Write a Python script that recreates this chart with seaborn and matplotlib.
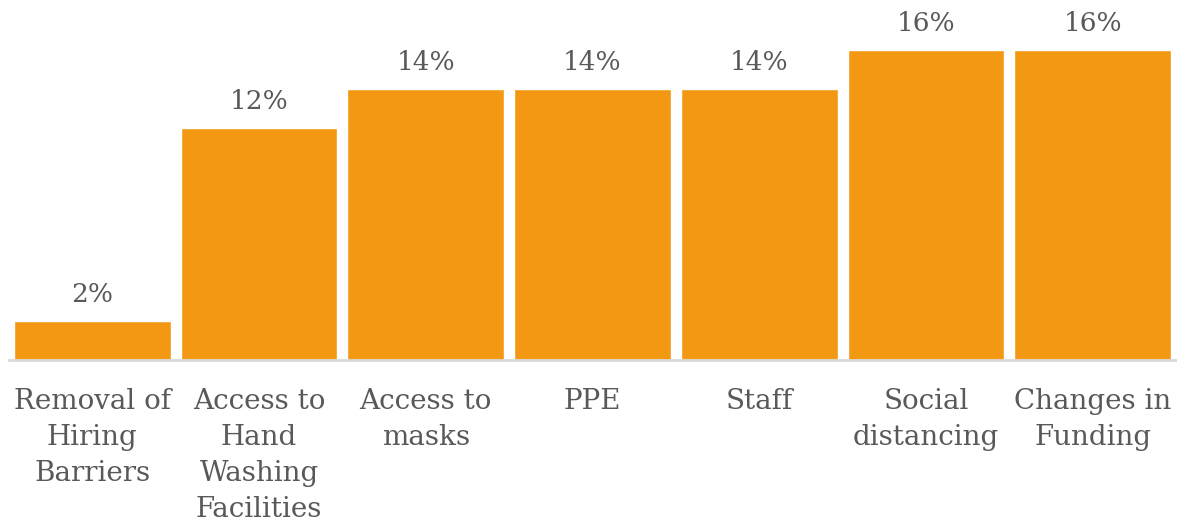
import matplotlib
matplotlib.use("Agg")
import matplotlib.pyplot as plt
import seaborn as sns
import pandas as pd

categories = [
    "Removal of\nHiring\nBarriers",
    "Access to\nHand\nWashing\nFacilities",
    "Access to\nmasks",
    "PPE",
    "Staff",
    "Social\ndistancing",
    "Changes in\nFunding",
]
values = [2, 12, 14, 14, 14, 16, 16]

BAR = "#F39813"
TEXT = "#595959"

sns.set_theme(style="white")
plt.rcParams["font.family"] = ["DejaVu Serif"]

df = pd.DataFrame({"category": categories, "value": values})

fig = plt.figure(figsize=(11.77, 5.26), dpi=100)
ax = fig.add_axes([9 / 1177, (526 - 360) / 526, 1167 / 1177, 360 / 526])

sns.barplot(data=df, x="category", y="value", color=BAR, saturation=1,
            width=0.94, ax=ax)

ax.set_ylim(0, 360 / 19.375)
ax.set_xlim(-0.5, len(categories) - 0.5)

for i, v in enumerate(values):
    ax.annotate(f"{v}%", (i, v), xytext=(0, 10), textcoords="offset points",
                ha="center", va="bottom", fontsize=19, color=TEXT)

for side in ["left", "right", "top"]:
    ax.spines[side].set_visible(False)
ax.spines["bottom"].set_color("#D9D9D9")
ax.spines["bottom"].set_linewidth(2)

ax.set_yticks([])
ax.set_xlabel("")
ax.set_ylabel("")
ax.tick_params(axis="x", length=0, pad=20)
for lbl in ax.get_xticklabels():
    lbl.set_fontsize(20)
    lbl.set_color(TEXT)
    lbl.set_linespacing(1.43)
    lbl.set_verticalalignment("top")

fig.savefig("out.png", dpi=100)
